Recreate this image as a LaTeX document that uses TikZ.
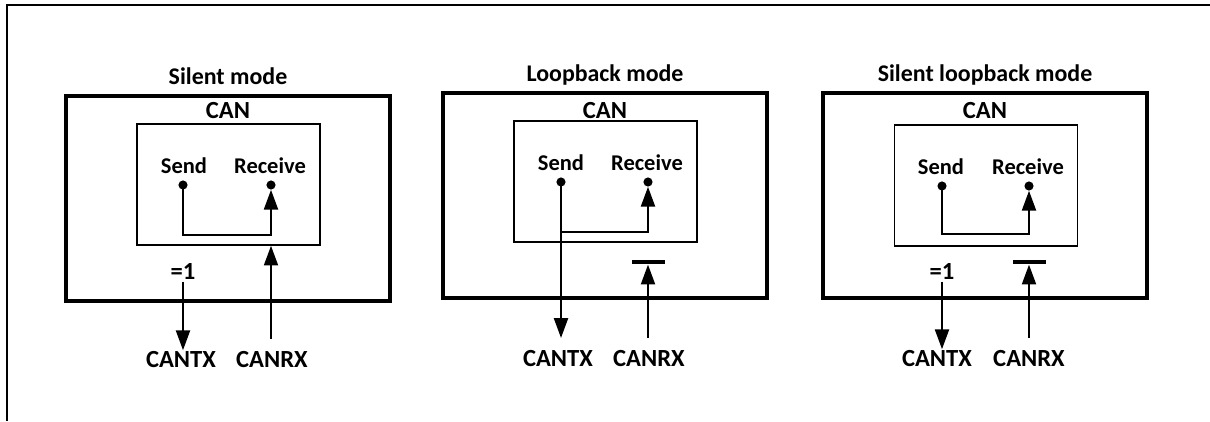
\documentclass[tikz,border=0pt]{standalone}
\usepackage{fontspec}
\setmainfont{Carlito}
\usetikzlibrary{arrows.meta, positioning, calc}
\tikzset{
  outerbox/.style={draw, line width=2.4pt, minimum width=8.1cm, minimum height=5.125cm},
  innerbox/.style={draw, line width=1.1pt, minimum width=4.575cm, minimum height=3.025cm},
  lbl/.style={font=\fontsize{16}{19}\selectfont\bfseries, inner sep=1pt},
  biglbl/.style={font=\fontsize{17.5}{20}\selectfont\bfseries, inner sep=1pt},
  modetitle/.style={font=\fontsize{17}{20}\selectfont\bfseries},
  pindot/.style={circle, fill, inner sep=0pt, minimum size=6.5pt},
  gate/.style={fill, inner sep=0pt, minimum width=0.825cm, minimum height=0.12cm},
  arr/.style={-{Triangle[length=14pt, width=10pt]}, line width=1.2pt},
}

\begin{document}
\begin{tikzpicture}[x=0.025cm, y=-0.025cm]
  \useasboundingbox (0,0) rectangle (1210,421);
  % frame
  \draw[line width=2pt] (7,421) -- (7,5) -- (1210,5);

  % silent mode
  \begin{scope}
    \node[modetitle] (t1) at (228,76) {Silent mode};
    \node[outerbox] (out1) at (228,198.5) {};
    \node[biglbl] (can1) at (228,111) {CAN};
    \node[innerbox] (in1) at (228.5,184.5) {};
    \node[lbl] (snd1) at (184,166) {Send};
    \node[lbl] (rcv1) at (270,166) {Receive};
    \node[pindot] (sd1) at (183,185) {};
    \node[pindot] (rd1) at (271,185) {};
    \node[biglbl] (eq1) at (183,272) {=1};
    \node[biglbl] (tx1) at (181,360) {CANTX};
    \node[biglbl] (rx1) at (272,360) {CANRX};
    \draw[arr] (sd1.center) -- ++(0,50) -| (rd1.south);
    \draw[arr] (eq1.south) -- (eq1 |- tx1.north);
    \draw[arr, shorten <=8pt] (rd1 |- rx1.north) -- (rd1 |- in1.south);
  \end{scope}

  % loopback mode
  \begin{scope}[shift={(377,-3)}]
    \node[modetitle] (t2) at (228,78) {Loopback mode};
    \node[outerbox] (out2) at (228,198.5) {};
    \node[biglbl] (can2) at (228,114) {CAN};
    \node[innerbox] (in2) at (228.5,184.5) {};
    \node[lbl] (snd2) at (184,166) {Send};
    \node[lbl] (rcv2) at (270,166) {Receive};
    \node[pindot] (sd2) at (184,185) {};
    \node[pindot] (rd2) at (271,185) {};
    \node[gate] (g2) at (271,265) {};
    \node[biglbl] (tx2) at (181,362) {CANTX};
    \node[biglbl] (rx2) at (272,362) {CANRX};
    \draw[arr, shorten >=8pt] (sd2.center) -- (sd2 |- tx2.north);
    \draw[arr] (sd2 |- 0,235) -| (rd2.south);
    \draw[arr, shorten <=8pt] (rd2 |- rx2.north) -- (g2.south);
  \end{scope}

  % silent loopback mode
  \begin{scope}[shift={(757,-2)}]
    \node[modetitle] (t3) at (228,77) {Silent loopback mode};
    \node[outerbox] (out3) at (228,197.5) {};
    \node[biglbl] (can3) at (228,113) {CAN};
    \node[innerbox] (in3) at (229,187.5) {};
    \node[lbl] (snd3) at (184,169) {Send};
    \node[lbl] (rcv3) at (271,169) {Receive};
    \node[pindot] (sd3) at (185,188) {};
    \node[pindot] (rd3) at (272,188) {};
    \node[gate] (g3) at (272,264) {};
    \node[biglbl] (eq3) at (185,274) {=1};
    \node[biglbl] (tx3) at (180,361) {CANTX};
    \node[biglbl] (rx3) at (272,361) {CANRX};
    \draw[arr] (sd3.center) -- ++(0,48) -| (rd3.south);
    \draw[arr] (eq3.south) -- (eq3 |- tx3.north);
    \draw[arr, shorten <=8pt] (rd3 |- rx3.north) -- (g3.south);
  \end{scope}
\end{tikzpicture}
\end{document}
